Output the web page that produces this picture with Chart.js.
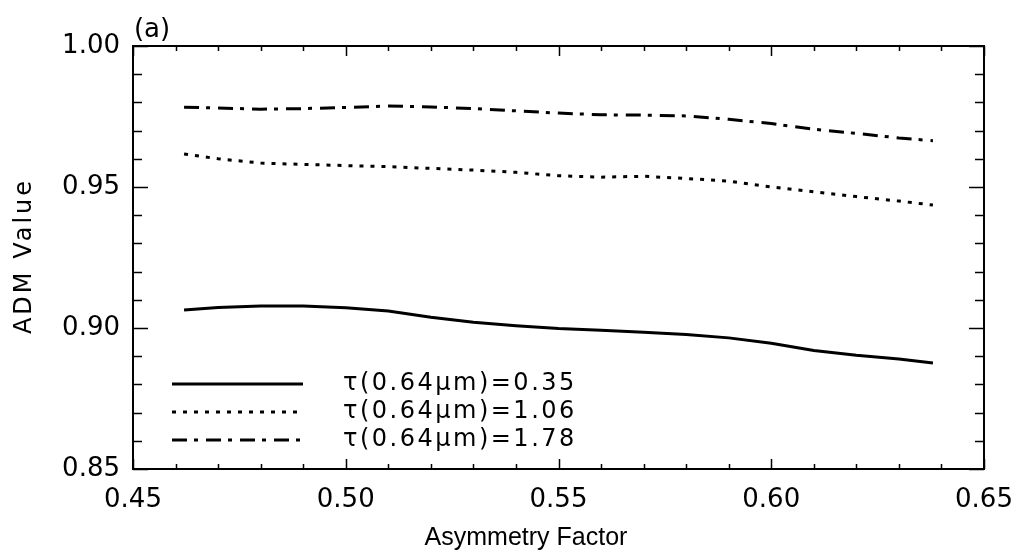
<!DOCTYPE html>
<html>
<head>
<meta charset="utf-8">
<script src="https://cdn.jsdelivr.net/npm/chart.js@4.4.0/dist/chart.umd.min.js"></script>
<style>
    html, body { margin: 0; padding: 0; background: #fff; }
</style>
</head>
<body>
<canvas id="chartADM" width="1016" height="553"></canvas>
<script>
// Valeurs (a)
const asymmetry = [0.462, 0.47, 0.48, 0.49, 0.50, 0.51, 0.52, 0.53, 0.54, 0.55,
                   0.56, 0.57, 0.58, 0.59, 0.60, 0.61, 0.62, 0.63, 0.638];
const admTau035 = [0.9064, 0.9073, 0.9078, 0.9078, 0.9072, 0.9060, 0.9038, 0.9020, 0.9008, 0.8998,
                   0.8992, 0.8985, 0.8977, 0.8965, 0.8946, 0.8920, 0.8903, 0.8890, 0.8876];
const admTau106 = [0.9617, 0.9600, 0.9585, 0.9580, 0.9576, 0.9572, 0.9566, 0.9560, 0.9552, 0.9540,
                   0.9535, 0.9538, 0.9530, 0.9521, 0.9500, 0.9483, 0.9466, 0.9450, 0.9436];
const admTau178 = [0.9783, 0.9780, 0.9776, 0.9778, 0.9782, 0.9787, 0.9784, 0.9778, 0.9770, 0.9762,
                   0.9756, 0.9755, 0.9752, 0.9740, 0.9725, 0.9705, 0.9690, 0.9674, 0.9664];
const seriesLabels = ['τ(0.64μm)=0.35', 'τ(0.64μm)=1.06', 'τ(0.64μm)=1.78'];
const xTicks = [0.45, 0.50, 0.55, 0.60, 0.65];
const yTicks = [0.85, 0.90, 0.95, 1.00];

const toPoints = vals => vals.map((v, i) => ({ x: asymmetry[i], y: v }));

const dashes = [[], [4, 7], [15, 7, 4, 8]];

// cadre, graduations internes, légende et titres façon IDL
const framePlugin = {
    id: 'frame',
    afterDatasetsDraw(chart) {
        const { ctx, chartArea: a, scales: { x, y } } = chart;
        ctx.save();
        ctx.strokeStyle = '#000';
        ctx.lineWidth = 2;
        ctx.strokeRect(a.left, a.top, a.right - a.left, a.bottom - a.top);

        ctx.lineWidth = 1.5;
        ctx.beginPath();
        for (let i = 0; i <= 20; i++) {
            const px = Math.round(x.getPixelForValue(0.45 + i * 0.01)) + 0.5;
            const len = i % 5 === 0 ? 10 : 5;
            ctx.moveTo(px, a.bottom); ctx.lineTo(px, a.bottom - len);
            ctx.moveTo(px, a.top); ctx.lineTo(px, a.top + len);
        }
        for (let i = 0; i <= 15; i++) {
            const py = Math.round(y.getPixelForValue(0.85 + i * 0.01)) + 0.5;
            const len = i % 5 === 0 ? 15 : 9;
            ctx.moveTo(a.left, py); ctx.lineTo(a.left + len, py);
            ctx.moveTo(a.right, py); ctx.lineTo(a.right - len, py);
        }
        ctx.stroke();

        // légende
        chart.data.datasets.forEach((ds, i) => {
            const ly = 384 + i * 28;
            ctx.beginPath();
            ctx.lineWidth = ds.borderWidth;
            ctx.setLineDash(ds.borderDash);
            ctx.moveTo(172, ly);
            ctx.lineTo(303, ly);
            ctx.stroke();
            ctx.setLineDash([]);
            ctx.fillStyle = '#000';
            ctx.font = '24px "DejaVu Sans"';
            ctx.letterSpacing = '2.5px';
            ctx.textAlign = 'left';
            ctx.textBaseline = 'middle';
            ctx.fillText(ds.label, 343, ly);
        });

        // titres des axes
        ctx.font = '25px "Liberation Sans"';
        ctx.letterSpacing = '0px';
        ctx.textAlign = 'center';
        ctx.fillText('Asymmetry Factor', 526, 538);
        ctx.save();
        ctx.translate(25, 256);
        ctx.rotate(-Math.PI / 2);
        ctx.font = '24px "DejaVu Sans"';
        ctx.letterSpacing = '3px';
        ctx.fillText('ADM Value', 0, 0);
        ctx.restore();

        ctx.letterSpacing = '0px';
        ctx.font = '26px "DejaVu Sans"';
        ctx.fillText('(a)', 152, 30);
        ctx.restore();
    }
};

const ctx = document.getElementById('chartADM').getContext('2d');

const chart = new Chart(ctx, {
    type: 'line',
    data: {
        datasets: [admTau035, admTau106, admTau178].map((vals, i) => ({
            label: seriesLabels[i],
            data: toPoints(vals),
            borderColor: '#000',
            borderWidth: 3,
            borderDash: dashes[i],
            pointRadius: 0,
            tension: 0,
            fill: false
        }))
    },
    options: {
        responsive: false,
        animation: false,
        devicePixelRatio: 1,
        layout: { padding: { top: 46, right: 32, left: 0, bottom: 0 } },
        plugins: {
            legend: { display: false },
            tooltip: { enabled: false }
        },
        scales: {
            x: {
                type: 'linear',
                min: 0.45,
                max: 0.65,
                grid: { display: false, drawTicks: false },
                border: { display: false },
                afterBuildTicks: s => { s.ticks = xTicks.map(v => ({ value: v })); },
                afterFit: s => { s.height = 84; s.paddingLeft = 0; s.paddingRight = 0; },
                ticks: {
                    padding: 16,
                    color: '#000',
                    font: { family: 'DejaVu Sans', size: 26 },
                    callback: v => Number(v).toFixed(2)
                }
            },
            y: {
                min: 0.85,
                max: 1.0,
                grid: { display: false, drawTicks: false },
                border: { display: false },
                afterBuildTicks: s => { s.ticks = yTicks.map(v => ({ value: v })); },
                afterFit: s => { s.width = 133; s.paddingTop = 0; s.paddingBottom = 0; },
                ticks: {
                    padding: 13,
                    align: 'inner',
                    color: '#000',
                    font: { family: 'DejaVu Sans', size: 26 },
                    callback: v => Number(v).toFixed(2)
                }
            }
        }
    },
    plugins: [framePlugin]
});
</script>
</body>
</html>
